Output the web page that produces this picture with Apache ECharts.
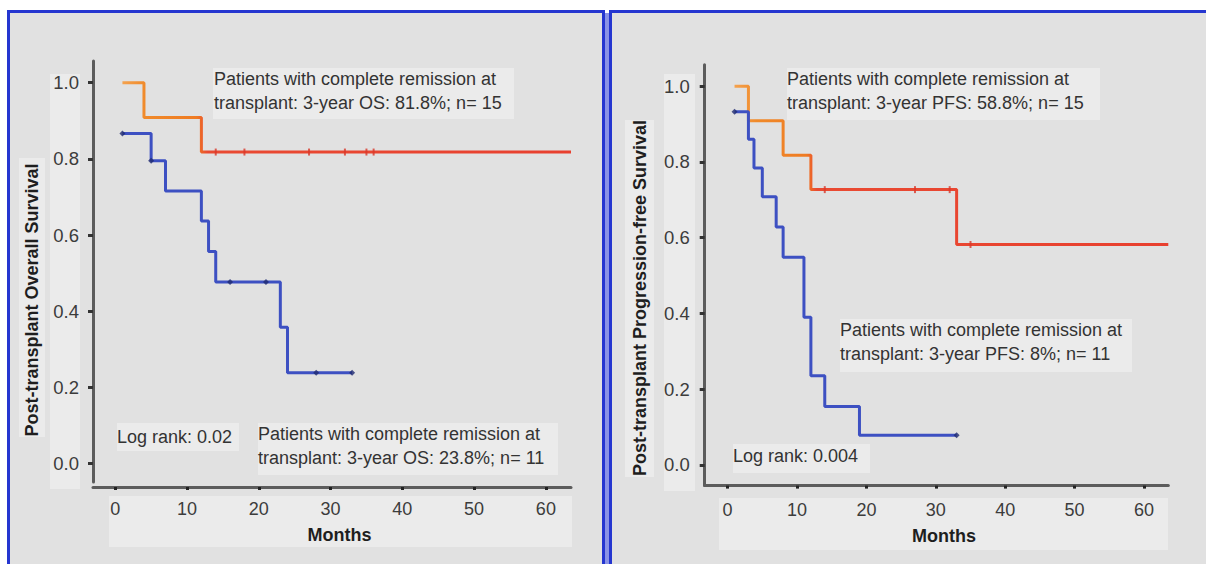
<!DOCTYPE html>
<html>
<head>
<meta charset="utf-8">
<script src="https://cdn.jsdelivr.net/npm/echarts@6/dist/echarts.min.js"></script>
<style>
html,body{margin:0;padding:0;background:#fff;}
#c{width:1206px;height:564px;}
</style>
</head>
<body>
<div id="c"></div>
<script>
// ---------- data ----------
const xTicks = [0, 10, 20, 30, 40, 50, 60];
const yTicks = [0, 0.2, 0.4, 0.6, 0.8, 1.0];

// Overall survival - complete remission group
const osCR_t = [1, 4, 12, 63.5];
const osCR_s = [1.0, 0.909, 0.818, 0.818];
const osCRcens_t = [14, 18, 27, 32, 35, 36];
const osCRcens_s = [0.818, 0.818, 0.818, 0.818, 0.818, 0.818];

// Overall survival - other group
const osNCR_t = [1, 5, 7, 12, 13, 14, 23, 24, 33];
const osNCR_s = [0.867, 0.795, 0.716, 0.637, 0.557, 0.477, 0.358, 0.239, 0.239];
const osNCRcens_t = [1, 5, 16, 21, 28, 33];
const osNCRcens_s = [0.867, 0.795, 0.477, 0.477, 0.239, 0.239];

// Progression-free survival - complete remission group
const pfsCR_t = [1, 3, 8, 12, 33, 63.5];
const pfsCR_s = [1.0, 0.909, 0.818, 0.727, 0.582, 0.582];
const pfsCRcens_t = [14, 27, 32, 35];
const pfsCRcens_s = [0.727, 0.727, 0.727, 0.582];

// Progression-free survival - other group
const pfsNCR_t = [1, 3, 3.8, 5, 7, 8, 11, 12, 14, 19, 33];
const pfsNCR_s = [0.933, 0.86, 0.784, 0.708, 0.628, 0.548, 0.39, 0.235, 0.154, 0.078, 0.078];
const pfsNCRcens_t = [1, 33];
const pfsNCRcens_s = [0.933, 0.078];

const leftTexts = {
  top: 'Patients with complete remission at\ntransplant: 3-year OS: 81.8%; n= 15',
  bottom: 'Patients with complete remission at\ntransplant: 3-year OS: 23.8%; n= 11',
  log: 'Log rank: 0.02',
  yName: 'Post-transplant Overall Survival'
};
const rightTexts = {
  top: 'Patients with complete remission at\ntransplant: 3-year PFS: 58.8%; n= 15',
  mid: 'Patients with complete remission at\ntransplant: 3-year PFS: 8%; n= 11',
  log: 'Log rank: 0.004',
  yName: 'Post-transplant Progression-free Survival'
};

// ---------- helpers ----------
const zip = (a, b) => a.map((v, i) => [v, b[i]]);
const FONT = 'Liberation Sans, Arial, sans-serif';
const PANEL = '#e1e1e1';
const BOX = '#ebebeb';
const BORDER = '#2536d0';

function crGradient() {
  return new echarts.graphic.LinearGradient(0, 0, 1, 0, [
    {offset: 0, color: '#f4a24e'},
    {offset: 0.05, color: '#f08a2a'},
    {offset: 0.165, color: '#ef7b22'},
    {offset: 0.19, color: '#e94a32'},
    {offset: 1, color: '#e8402f'}
  ]);
}

function xAxisCfg(gi, min, max, offset, margin, gap) {
  return {
    type: 'value', gridIndex: gi, min: min, max: max, offset: offset,
    axisLine: {show: true, onZero: false, lineStyle: {color: '#5c5c5c', width: 3}},
    axisTick: {show: true, customValues: xTicks, length: 3, lineStyle: {color: '#222', width: 3}},
    axisLabel: {customValues: xTicks, fontSize: 18, color: '#3c3c3c', fontFamily: FONT, margin: margin},
    splitLine: {show: false},
    name: 'Months', nameLocation: 'middle', nameGap: gap,
    nameTextStyle: {fontSize: 18, fontWeight: 'bold', color: '#1e1e1e', fontFamily: FONT, padding: [0, 0, 0, 15]}
  };
}
function yAxisCfg(gi, min, max, margin) {
  return {
    type: 'value', gridIndex: gi, min: min, max: max,
    axisLine: {show: true, onZero: false, lineStyle: {color: '#5c5c5c', width: 3}},
    axisTick: {show: true, customValues: yTicks, length: 5, lineStyle: {color: '#333', width: 3}},
    axisLabel: {customValues: yTicks, fontSize: 18.5, color: '#3c3c3c', fontFamily: FONT, margin: margin,
      formatter: v => v.toFixed(1)},
    splitLine: {show: false}
  };
}
function rect(x, y, w, h, fill, z, stroke, lw) {
  const r = {type: 'rect', shape: {x: x, y: y, width: w, height: h}, style: {fill: fill}, z: z, silent: true};
  if (stroke) { r.style.stroke = stroke; r.style.lineWidth = lw; }
  return r;
}
function txt(x, y, s, opts) {
  return {
    type: 'text', x: x, y: y, z: 20, silent: true,
    style: Object.assign({text: s, font: '18px ' + FONT, fill: '#333', lineHeight: 24,
      align: 'left', verticalAlign: 'top'}, opts || {})
  };
}

const chart = echarts.init(document.getElementById('c'), null, {renderer: 'svg'});

const option = {
  backgroundColor: '#ffffff',
  animation: false,
  grid: [
    {left: 93, top: 61, width: 478, height: 421},
    {left: 704.7, top: 64.7, width: 463.6, height: 420.9}
  ],
  xAxis: [
    xAxisCfg(0, -3.1, 63.5, 5, 13, 39),
    xAxisCfg(1, -3.3, 63.5, 0, 15, 41)
  ],
  yAxis: [
    yAxisCfg(0, -0.048, 1.057, 14),
    yAxisCfg(1, -0.055, 1.057, 15)
  ],
  graphic: [
    // panels
    rect(8.5, 11.5, 595, 570, PANEL, -30, BORDER, 3),
    rect(610.5, 11.5, 610, 570, PANEL, -30, BORDER, 3),
    rect(605, 13, 4, 560, '#8a93e6', -29),
    // label backdrops (left)
    rect(50, 74, 30, 415, BOX, -20),
    rect(109, 496, 463, 51, BOX, -20),
    rect(19, 158, 26, 279, BOX, -20),
    // label backdrops (right)
    rect(664, 74, 31, 417, BOX, -20),
    rect(719, 498, 449, 52, BOX, -20),
    rect(625, 120, 29, 357, BOX, -20),
    // text boxes left
    rect(213, 68, 301, 51, BOX, 15),
    txt(214, 67, leftTexts.top),
    rect(258, 423, 300, 52, BOX, 15),
    txt(258, 422, leftTexts.bottom),
    rect(117, 423, 122, 28, BOX, 15),
    txt(117, 437, leftTexts.log, {verticalAlign: 'middle'}),
    // text boxes right
    rect(787, 68, 313, 52, BOX, 15),
    txt(787, 67, rightTexts.top),
    rect(840, 319, 292, 53, BOX, 15),
    txt(840, 318, rightTexts.mid),
    rect(733, 444, 137, 29, BOX, 15),
    txt(733, 456, rightTexts.log, {verticalAlign: 'middle'}),
    // y axis titles
    {type: 'text', x: 32, y: 300, rotation: Math.PI / 2, z: 20, silent: true,
      style: {text: leftTexts.yName, font: 'bold 18px ' + FONT, fill: '#1e1e1e', align: 'center', verticalAlign: 'middle'}},
    {type: 'text', x: 640, y: 298, rotation: Math.PI / 2, z: 20, silent: true,
      style: {text: rightTexts.yName, font: 'bold 18px ' + FONT, fill: '#1e1e1e', align: 'center', verticalAlign: 'middle'}}
  ],
  series: [
    {type: 'line', name: 'OS CR', xAxisIndex: 0, yAxisIndex: 0, step: 'end', showSymbol: false,
      lineStyle: {width: 3, color: crGradient()}, data: zip(osCR_t, osCR_s)},
    {type: 'line', name: 'OS other', xAxisIndex: 0, yAxisIndex: 0, step: 'end', showSymbol: false,
      lineStyle: {width: 3, color: '#3d50c2'}, data: zip(osNCR_t, osNCR_s)},
    {type: 'scatter', xAxisIndex: 0, yAxisIndex: 0, symbol: 'rect', symbolSize: [2, 7],
      itemStyle: {color: '#d8382a'}, data: zip(osCRcens_t, osCRcens_s), z: 5},
    {type: 'scatter', xAxisIndex: 0, yAxisIndex: 0, symbol: 'diamond', symbolSize: 6,
      itemStyle: {color: '#1f2a70'}, data: zip(osNCRcens_t, osNCRcens_s), z: 5},

    {type: 'line', name: 'PFS CR', xAxisIndex: 1, yAxisIndex: 1, step: 'end', showSymbol: false,
      lineStyle: {width: 3, color: crGradient()}, data: zip(pfsCR_t, pfsCR_s)},
    {type: 'line', name: 'PFS other', xAxisIndex: 1, yAxisIndex: 1, step: 'end', showSymbol: false,
      lineStyle: {width: 3, color: '#3d50c2'}, data: zip(pfsNCR_t, pfsNCR_s)},
    {type: 'scatter', xAxisIndex: 1, yAxisIndex: 1, symbol: 'rect', symbolSize: [2, 7],
      itemStyle: {color: '#d8382a'}, data: zip(pfsCRcens_t, pfsCRcens_s), z: 5},
    {type: 'scatter', xAxisIndex: 1, yAxisIndex: 1, symbol: 'diamond', symbolSize: 6,
      itemStyle: {color: '#1f2a70'}, data: zip(pfsNCRcens_t, pfsNCRcens_s), z: 5}
  ]
};
chart.setOption(option);
</script>
</body>
</html>
